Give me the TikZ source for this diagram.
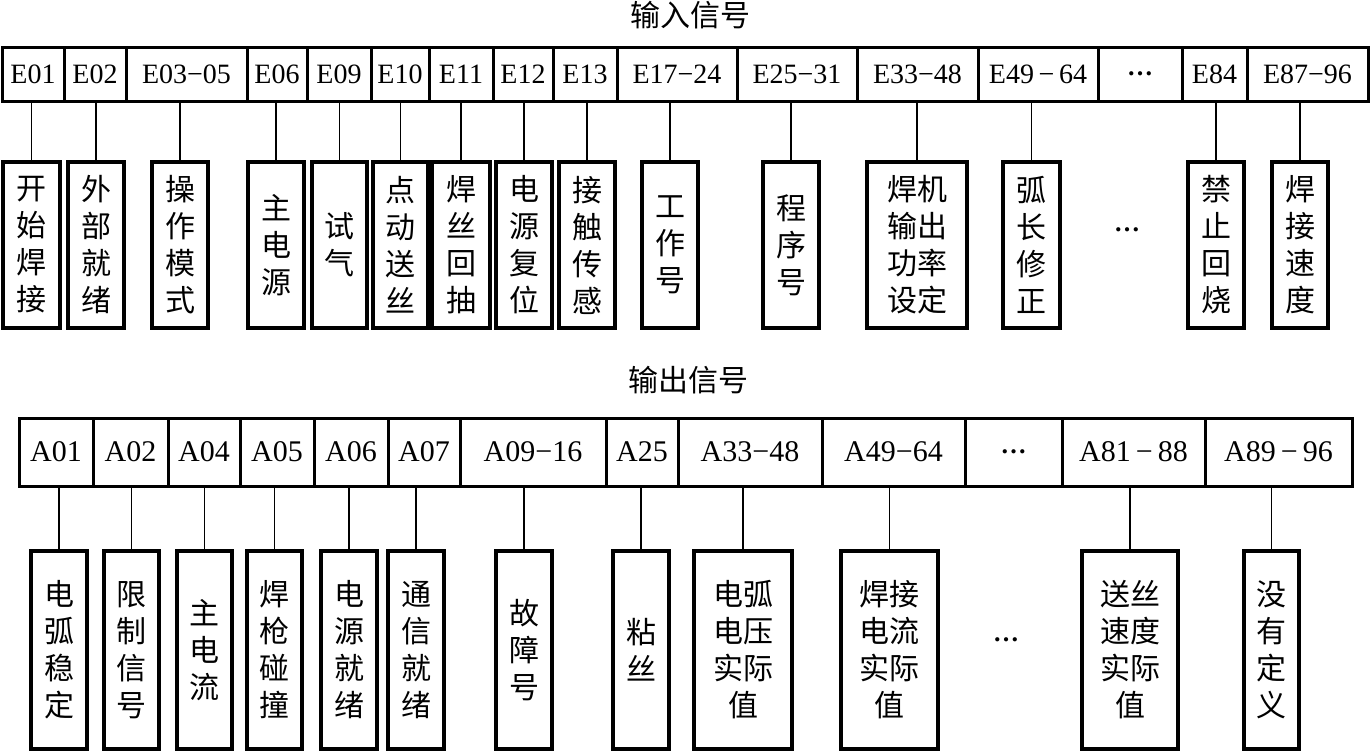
\documentclass[tikz,border=0pt]{standalone}
\usepackage{fontspec}
\setmainfont{Liberation Serif}
\newfontfamily\cjk{Noto Sans CJK SC}
\usepackage{tikz}
\newcommand\middots{\textbf{…}}
\tikzset{
  cell/.style={draw,line width=1.5pt,inner sep=0pt,font=\fontsize{14pt}{16pt}\selectfont},
  sig/.style={draw,line width=1.6pt,inner sep=0pt,align=center,font=\cjk\fontsize{15pt}{18.5pt}\selectfont},
  link/.style={line width=0.6pt},
  ttl/.style={font=\cjk\fontsize{15pt}{18pt}\selectfont},
  dots/.style={inner sep=0pt,font=\fontsize{13pt}{16pt}\selectfont}}

\begin{document}
\begin{tikzpicture}[x=0.5pt,y=-0.5pt]
\useasboundingbox (0,0) rectangle (1370,751);
% input signals
\node[ttl] (tin) at (690,15) {输入信号};
\foreach \xa/\xb/\txt [count=\i] in {2/64/E01,64/126/E02,126/247/E03−05,247/307/E06,307/371/E09,371/429/E10,429/493/E11,493/553/E12,553/617/E13,617/737/E17−24,737/857/E25−31,857/978/E33−48,978/1098/E49\,−\,64,1098/1182/{\fontsize{13pt}{16pt}\selectfont\middots},1182/1247/E84,1247/1368/E87−96}
  \node[cell,minimum width={(\xb-\xa)*0.5pt},minimum height=27pt] (e\i) at ({(\xa+\xb)/2},74) {\txt};
\foreach \xa/\xb/\txt/\c [count=\i] in {3/60/开\\始\\焊\\接/1,68/124/外\\部\\就\\绪/2,152/208/操\\作\\模\\式/3,248/304/主\\电\\源/4,312/367/试\\气/5,373/428/点\\动\\送\\丝/6,432/490/焊\\丝\\回\\抽/7,496/552/电\\源\\复\\位/8,559/615/接\\触\\传\\感/9,642/698/工\\作\\号/10,763/819/程\\序\\号/11,867/967/焊机\\输出\\功率\\设定/12,1003/1060/弧\\长\\修\\正/13,1188/1244/禁\\止\\回\\烧/15,1272/1328/焊\\接\\速\\度/16}{
  \node[sig,minimum width={(\xb-\xa)*0.5pt},minimum height=83pt] (s\i) at ({(\xa+\xb)/2},245) {\txt};
  \draw[link] (s\i.north) -- (s\i.north |- e\c.south);}
\node[dots] (sdots) at (1127,230) {\middots};
% output signals
\node[ttl] (tout) at (688,380) {输出信号};
\foreach \xa/\xb/\txt [count=\i] in {19/93/A01,93/168/A02,168/240/A04,240/314/A05,314/388/A06,388/460/A07,460/606/A09−16,606/678/A25,678/822/A33−48,822/965/A49−64,965/1062/{\fontsize{13pt}{16pt}\selectfont\middots},1062/1205/A81\,−\,88,1205/1352/A89\,−\,96}
  \node[cell,font=\fontsize{15pt}{17pt}\selectfont,minimum width={(\xb-\xa)*0.5pt},minimum height=34pt] (a\i) at ({(\xa+\xb)/2},452) {\txt};
\foreach \xa/\xb/\txt/\c [count=\i] in {31/87/电\\弧\\稳\\定/1,104/159/限\\制\\信\\号/2,177/232/主\\电\\流/3,247/302/焊\\枪\\碰\\撞/4,321/377/电\\源\\就\\绪/5,388/444/通\\信\\就\\绪/6,496/552/故\\障\\号/7,613/669/粘\\丝/8,694/792/电弧\\电压\\实际\\值/9,841/938/焊接\\电流\\实际\\值/10,1082/1178/送丝\\速度\\实际\\值/12,1244/1299/没\\有\\定\\义/13}{
  \node[sig,minimum width={(\xb-\xa)*0.5pt},minimum height=99pt] (o\i) at ({(\xa+\xb)/2},650) {\txt};
  \draw[link] (o\i.north) -- (o\i.north |- a\c.south);}
\node[dots] (odots) at (1006,640) {\middots};
\end{tikzpicture}
\end{document}
